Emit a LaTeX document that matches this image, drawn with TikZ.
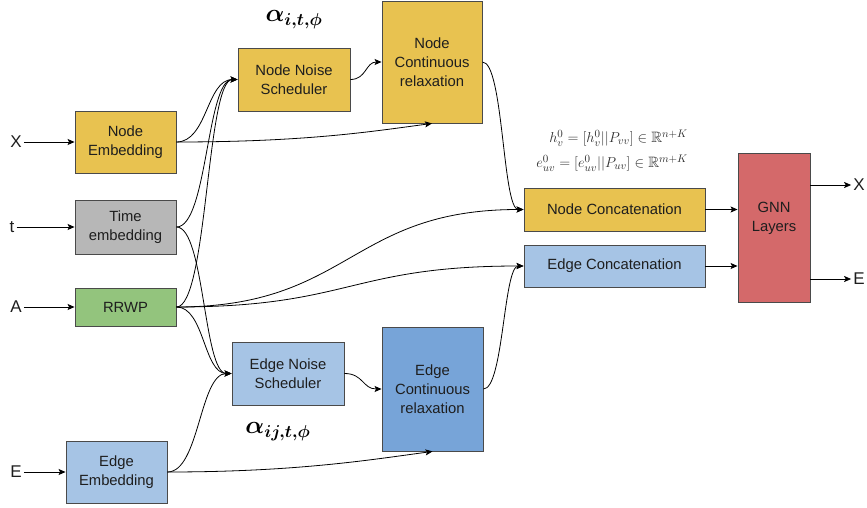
\documentclass[tikz,border=0pt]{standalone}
\usepackage{amsmath,amssymb}
\usepackage{fontspec}
\setmainfont{Liberation Sans}
\usetikzlibrary{arrows.meta}
\definecolor{yel}{HTML}{E8C250}
\definecolor{gry}{HTML}{B7B7B7}
\definecolor{grn}{HTML}{93C47D}
\definecolor{lblue}{HTML}{A6C4E5}
\definecolor{dblue}{HTML}{77A4D8}
\definecolor{redc}{HTML}{D4696A}
\definecolor{bord}{HTML}{4A4A4A}
\definecolor{txt}{HTML}{1E1E1E}
\begin{document}
\begin{tikzpicture}[x=1pt,y=1pt,
  box/.style={draw=bord, line width=0.9pt, align=center, inner sep=0pt, text=txt,
    font=\fontsize{14.8}{19}\selectfont},
  con/.style={draw=black, line width=0.8pt, -{Stealth[length=7pt,width=6pt,inset=1.5pt]}},
  lab/.style={font=\fontsize{17}{20}\selectfont, inner sep=2pt, text=txt},
  eqn/.style={text=black!82, inner sep=0pt, font=\fontsize{15}{17}\selectfont},
  alab/.style={inner sep=0pt, font=\fontsize{25}{30}\selectfont\boldmath}]
\useasboundingbox (0,0) rectangle (867,-508);

% boxes
\node[box, fill=yel, minimum width=101pt, minimum height=62pt] (ne) at (125.5,-142) {Node\\Embedding};
\node[box, fill=gry, minimum width=101pt, minimum height=54pt] (te) at (125.5,-227) {Time\\embedding};
\node[box, fill=grn, minimum width=101pt, minimum height=38pt] (rr) at (125.5,-307) {RRWP};
\node[box, fill=lblue, minimum width=101pt, minimum height=62pt] (ee) at (116.5,-472) {Edge\\Embedding};
\node[box, fill=yel, minimum width=112pt, minimum height=63pt] (nns) at (294,-79.5) {Node Noise\\Scheduler};
\node[box, fill=yel, minimum width=100pt, minimum height=122pt] (ncr) at (432,-62) {Node\\Continuous\\relaxation};
\node[box, fill=lblue, minimum width=112pt, minimum height=63pt] (ens) at (288,-373.5) {Edge Noise\\Scheduler};
\node[box, fill=dblue, minimum width=101pt, minimum height=124pt] (ecr) at (432.5,-389) {Edge\\Continuous\\relaxation};
\node[box, fill=yel, minimum width=181pt, minimum height=43pt] (nc) at (614.5,-209.5) {Node Concatenation};
\node[box, fill=lblue, minimum width=181pt, minimum height=42pt] (ec) at (614.5,-266) {Edge Concatenation};
\node[box, fill=redc, minimum width=72pt, minimum height=149pt] (gnn) at (774,-227.5) {};
\node[box, draw=none] (gnnt) at (774,-218) {GNN\\Layers};

% input / output labels
\node[lab] (ix) at (16,-142) {X};
\node[lab] (it) at (12,-227) {t};
\node[lab] (ia) at (16,-307) {A};
\node[lab] (ie) at (16,-472) {E};
\node[lab] (ox) at (859,-185) {X};
\node[lab] (oe) at (859,-279) {E};

% math labels
\node[alab] (a1) at (294,-20) {$\alpha_{i,t,\phi}$};
\node[alab] (a2) at (278,-432) {$\alpha_{ij,t,\phi}$};
\node[eqn, anchor=east] (eq1) at (688,-138) {$h_v^0=[h_v^0||P_{vv}]\in\mathbb{R}^{n+K}$};
\node[eqn, anchor=east] (eq2) at (688,-163) {$e_{uv}^0=[e_{uv}^0||P_{uv}]\in\mathbb{R}^{m+K}$};

% input arrows
\draw[con] (ix) -- (ne);
\draw[con] (it) -- (te);
\draw[con] (ia) -- (rr);
\draw[con] (ie) -- (ee);

% curved connectors
\draw[con] (ne.east) .. controls +(31,0) and +(-31,0) .. (nns.west);
\draw[con] (ne.east) .. controls +(130,0) and +(-60,-8) .. (ncr.south);
\draw[con] (te.east) .. controls +(31,0) and +(-31,0) .. (nns.west);
\draw[con] (te.east) .. controls +(28,0) and +(-28,0) .. (ens.west);
\draw[con] (rr.east) .. controls +(31,0) and +(-31,0) .. (nns.west);
\draw[con] (rr.east) .. controls +(28,0) and +(-28,0) .. (ens.west);
\draw[con] (rr.east) .. controls +(174,0) and +(-174,0) .. (nc.west);
\draw[con] (rr.east) .. controls +(174,0) and +(-174,0) .. (ec.west);
\draw[con] (ee.east) .. controls +(32,0) and +(-32,0) .. (ens.west);
\draw[con] (ee.east) .. controls +(130,0) and +(-60,-8) .. (ecr.south);
\draw[con] (nns.east) .. controls +(16,0) and +(-16,0) .. (ncr.west);
\draw[con] (ens.east) .. controls +(19,0) and +(-19,0) .. (ecr.west);
\draw[con] (ncr.east) .. controls +(21,0) and +(-21,0) .. (nc.west);
\draw[con] (ecr.east) .. controls +(20,0) and +(-20,0) .. (ec.west);

% to / from GNN
\draw[con] (nc.east) -- (nc.east -| gnn.west);
\draw[con] (ec.east) -- (ec.east -| gnn.west);
\draw[con] (gnn.east |- ox) -- (ox);
\draw[con] (gnn.east |- oe) -- (oe);
\end{tikzpicture}
\end{document}
